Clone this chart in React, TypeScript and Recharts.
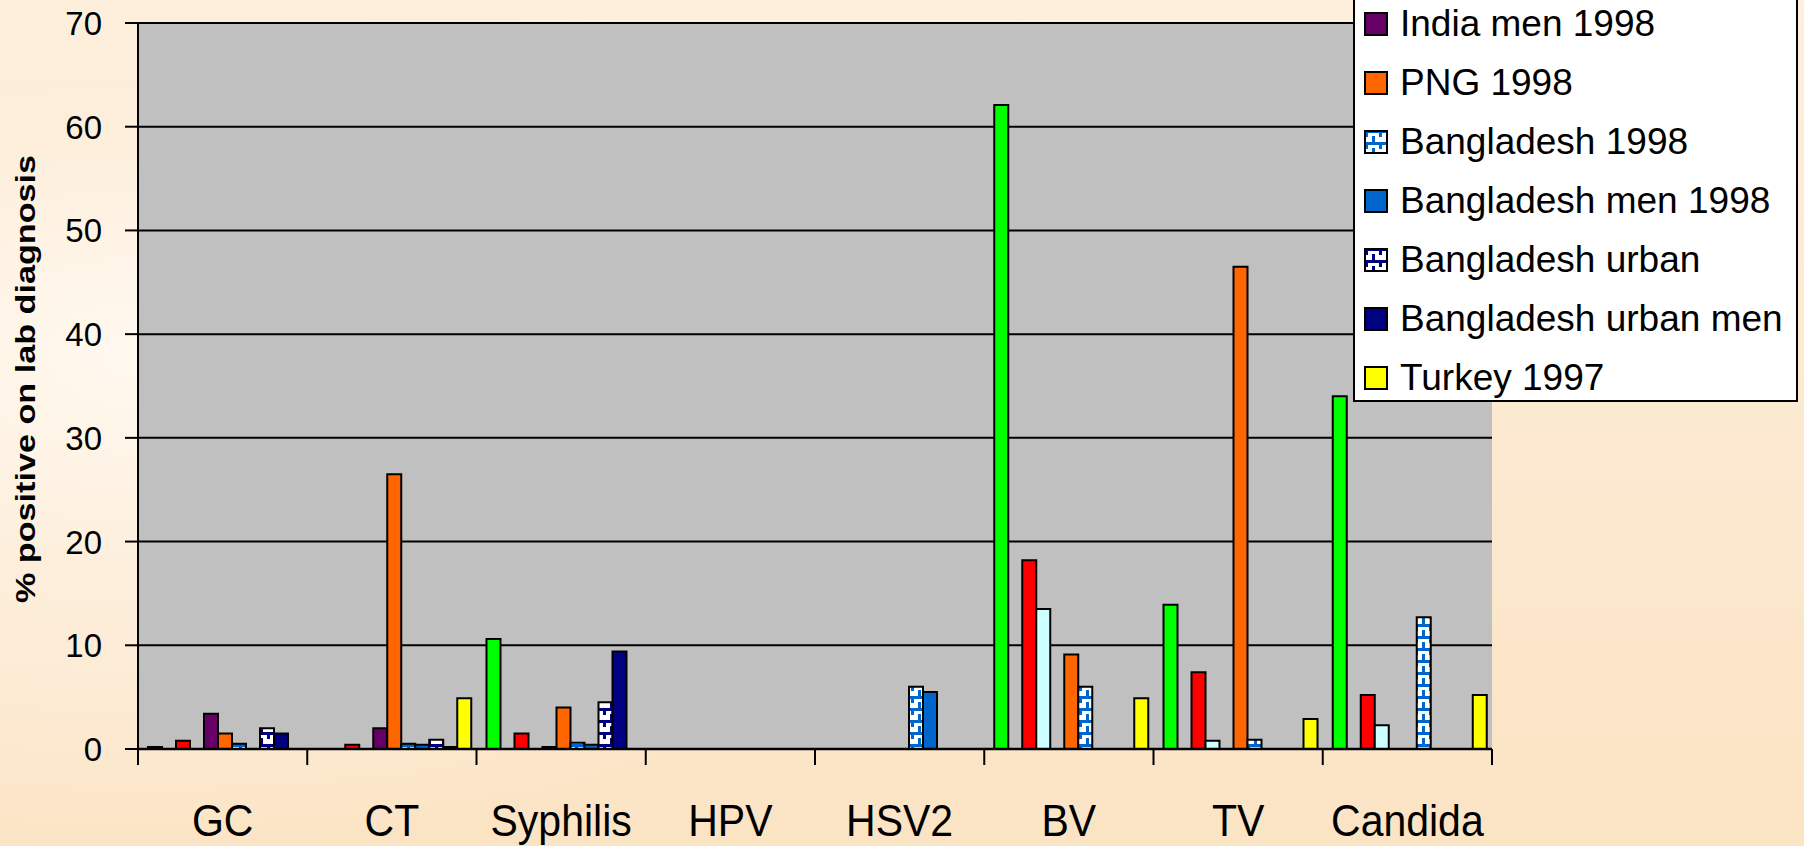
import { BarChart, Bar, XAxis, YAxis, CartesianGrid, Legend } from 'recharts';

const categories = ['GC', 'CT', 'Syphilis', 'HPV', 'HSV2', 'BV', 'TV', 'Candida'];
const yTicks = [0, 10, 20, 30, 40, 50, 60, 70];

// first four series: their legend rows are cut off above the picture
const series1 = [0.2, null, 10.6, null, null, 62.1, 13.9, 34.0];
const series2 = [null, null, null, null, null, null, null, null];
const series3 = [0.8, 0.4, 1.5, null, null, 18.2, 7.4, 5.2];
const series4 = [null, null, null, null, null, 13.5, 0.8, 2.3];
const indiaMen1998 = [3.4, 2.0, 0.2, null, null, null, null, null];
const png1998 = [1.5, 26.5, 4.0, null, null, 9.1, 46.5, null];
const bangladesh1998 = [0.5, 0.5, 0.6, null, 6.0, 6.0, 0.9, 12.7];
const bangladeshMen1998 = [null, 0.4, 0.4, null, 5.5, null, null, null];
const bangladeshUrban = [2.0, 0.9, 4.5, null, null, null, null, null];
const bangladeshUrbanMen = [1.5, 0.2, 9.4, null, null, null, null, null];
const turkey1997 = [null, 4.9, null, null, null, 4.9, 2.9, 5.2];

const series = [
  { key: 's1', name: '', fill: '#00FF00', values: series1, legend: false },
  { key: 's2', name: '', fill: '#FF00FF', values: series2, legend: false },
  { key: 's3', name: '', fill: '#FF0000', values: series3, legend: false },
  { key: 's4', name: '', fill: '#CCFFFF', values: series4, legend: false },
  { key: 'indiaMen', name: 'India men 1998', fill: '#660066', values: indiaMen1998, legend: true },
  { key: 'png', name: 'PNG 1998', fill: '#FF6600', values: png1998, legend: true },
  { key: 'bd', name: 'Bangladesh 1998', fill: 'url(#brickBlue)', values: bangladesh1998, legend: true },
  { key: 'bdMen', name: 'Bangladesh men 1998', fill: '#0066CC', values: bangladeshMen1998, legend: true },
  { key: 'bdUrban', name: 'Bangladesh urban', fill: 'url(#brickNavy)', values: bangladeshUrban, legend: true },
  { key: 'bdUrbanMen', name: 'Bangladesh urban men', fill: '#000080', values: bangladeshUrbanMen, legend: true },
  { key: 'turkey', name: 'Turkey 1997', fill: '#FFFF00', values: turkey1997, legend: true },
];

const data = categories.map((name, i) => {
  const row: Record<string, string | number | null> = { name };
  series.forEach((s) => {
    row[s.key] = s.values[i];
  });
  return row;
});

const W = 1804;
const H = 846;
const PLOT_LEFT = 138;
const PLOT_RIGHT = 1492;
const PLOT_TOP = 23;
const PLOT_BOTTOM = 749;
const BAND = (PLOT_RIGHT - PLOT_LEFT) / categories.length;
const FONT = '"Liberation Sans", Arial, sans-serif';

const YTick = (props: any) => {
  const { y, payload } = props;
  return (
    <text x={102} y={y + 12} textAnchor="end" fontSize={33} fontFamily={FONT} fill="#000">
      {payload.value}
    </text>
  );
};

const CategoryTick = (props: any) => {
  const { x, payload, index } = props;
  const left = x - BAND / 2;
  return (
    <g>
      <line x1={left} x2={left} y1={PLOT_BOTTOM} y2={PLOT_BOTTOM + 16} stroke="#000" strokeWidth={2} />
      {index === categories.length - 1 && (
        <line x1={x + BAND / 2} x2={x + BAND / 2} y1={PLOT_BOTTOM} y2={PLOT_BOTTOM + 16} stroke="#000" strokeWidth={2} />
      )}
      <text
        transform={`translate(${x}, 836) scale(1, 1.08)`}
        textAnchor="middle"
        fontSize={41}
        fontFamily={FONT}
        fill="#000"
      >
        {payload.value}
      </text>
    </g>
  );
};

const AxisTitle = () => (
  <text
    transform="translate(35, 379) rotate(-90)"
    textAnchor="middle"
    fontSize={27}
    fontWeight="bold"
    fontFamily={FONT}
    textLength={448}
    lengthAdjust="spacingAndGlyphs"
    fill="#000"
  >
    % positive on lab diagnosis
  </text>
);

const LegendBox = () => (
  <div
    style={{
      background: '#fff',
      border: '2px solid #000',
      boxSizing: 'border-box',
      width: 445,
      height: 410,
      overflow: 'hidden',
    }}
  >
    {series
      .filter((s) => s.legend)
      .map((s) => (
        <div key={s.key} style={{ display: 'flex', alignItems: 'center', height: 59 }}>
          <svg width={24} height={24} style={{ marginLeft: 9, marginRight: 12, flexShrink: 0 }}>
            <rect x={1} y={1} width={22} height={22} fill={s.fill} stroke="#000" strokeWidth={2} />
          </svg>
          <span style={{ fontFamily: FONT, fontSize: 37, lineHeight: 1, color: '#000', whiteSpace: 'nowrap' }}>
            {s.name}
          </span>
        </div>
      ))}
  </div>
);

export default function App() {
  return (
    <div
      style={{
        position: 'absolute',
        left: 0,
        top: 0,
        width: W,
        height: H,
        overflow: 'hidden',
        background:
          'radial-gradient(ellipse 900px 500px at 8% 42%, #FFF9F0 0%, #FDEEDB 45%, rgba(251,229,198,0) 100%), linear-gradient(180deg, #FDEFDD 0%, #FCE9D2 50%, #FBE4C4 100%)',
      }}
    >
      <BarChart
        width={W}
        height={H}
        data={data}
        margin={{ top: PLOT_TOP, right: W - PLOT_RIGHT, bottom: 0, left: 0 }}
        barCategoryGap={10}
        barGap={0}
      >
        <defs>
          <pattern id="brickBlue" patternUnits="userSpaceOnUse" width={14} height={12}>
            <rect width={14} height={12} fill="#fff" />
            <rect x={0} y={0} width={14} height={3} fill="#0066CC" />
            <rect x={1} y={0} width={3} height={7} fill="#0066CC" />
            <rect x={8} y={6} width={3} height={6} fill="#0066CC" />
          </pattern>
          <pattern id="brickNavy" patternUnits="userSpaceOnUse" width={14} height={12}>
            <rect width={14} height={12} fill="#fff" />
            <rect x={0} y={0} width={14} height={3} fill="#000080" />
            <rect x={1} y={0} width={3} height={7} fill="#000080" />
            <rect x={8} y={6} width={3} height={6} fill="#000080" />
          </pattern>
        </defs>
        <CartesianGrid vertical={false} stroke="#000" strokeWidth={2} fill="#C0C0C0" fillOpacity={1} />
        <XAxis
          dataKey="name"
          height={H - PLOT_BOTTOM}
          axisLine={{ stroke: '#000', strokeWidth: 2.5 }}
          tickLine={false}
          tick={<CategoryTick />}
          interval={0}
        />
        <YAxis
          width={PLOT_LEFT}
          domain={[0, 70]}
          ticks={yTicks}
          interval={0}
          tickSize={13}
          axisLine={{ stroke: '#000', strokeWidth: 2 }}
          tickLine={{ stroke: '#000', strokeWidth: 2 }}
          tick={<YTick />}
          label={{ content: () => <AxisTitle /> }}
        />
        <YAxis
          yAxisId="right"
          orientation="right"
          width={0}
          domain={[0, 70]}
          axisLine={{ stroke: '#8C8C8C', strokeWidth: 2 }}
          tick={false}
          tickLine={false}
        />
        <Legend
          layout="vertical"
          align="center"
          verticalAlign="middle"
          content={() => <LegendBox />}
          wrapperStyle={{ position: 'absolute', left: 1353, top: -8, width: 445, height: 410 }}
        />
        {series.map((s) => (
          <Bar
            key={s.key}
            dataKey={s.key}
            name={s.name}
            fill={s.fill}
            stroke="#000"
            strokeWidth={2}
            isAnimationActive={false}
          />
        ))}
      </BarChart>
    </div>
  );
}
